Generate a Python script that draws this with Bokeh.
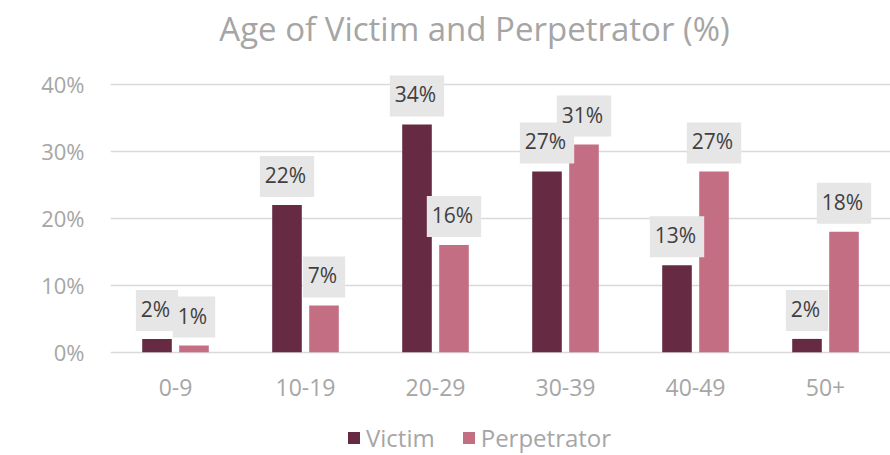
from bokeh.plotting import figure
from bokeh.models import (ColumnDataSource, FactorRange, Range1d, FixedTicker, PrintfTickFormatter,
                          Legend, LegendItem, Label)
from bokeh.transform import dodge
from bokeh.core.properties import value
from bokeh.embed import file_html
from bokeh.resources import INLINE

# ---- data ----
categories = ["0-9", "10-19", "20-29", "30-39", "40-49", "50+"]
victim = [2, 22, 34, 27, 13, 2]
perpetrator = [1, 7, 16, 31, 27, 18]
y_ticks = [0, 10, 20, 30, 40]
title_text = "Age of Victim and Perpetrator (%)"
series_names = ["Victim", "Perpetrator"]

victim_color = "#662B42"
perp_color = "#C46E84"
grid_color = "#D9D9D9"
axis_text_color = "#A6A6A6"
FONT = "Open Sans"

src = ColumnDataSource(dict(
    cat=categories,
    victim=victim,
    perpetrator=perpetrator,
    victim_lbl=[f"{v}%" for v in victim],
    perp_lbl=[f"{v}%" for v in perpetrator],
))

p = figure(
    width=890, height=455,
    x_range=FactorRange(*categories, range_padding=0),
    y_range=Range1d(-15.4, 52.5),
    output_backend="svg", toolbar_location=None,
    min_border_left=110, min_border_right=0,
    min_border_top=0, min_border_bottom=0,
)
p.outline_line_color = None
p.background_fill_color = "white"
p.border_fill_color = "white"
p.title.text = ""
p.title.visible = False
p.title.standoff = 0

# chart title (drawn inside the canvas, centred like the reference)
p.add_layout(Label(x=364, y=426.7, x_units="screen", y_units="screen", text=title_text,
                   text_font=FONT, text_font_size="33px", text_color="#A5A5A5",
                   text_align="center", text_baseline="middle"))

OFF = 0.1423
W = 0.2277

r1 = p.vbar(x=dodge("cat", -OFF, range=p.x_range), top="victim", bottom=0, width=W,
            source=src, fill_color=victim_color, line_color=None)
r2 = p.vbar(x=dodge("cat", OFF, range=p.x_range), top="perpetrator", bottom=0, width=W,
            source=src, fill_color=perp_color, line_color=None)

common = dict(text_font=value(FONT), text_font_size="21px", text_color="#404040",
              text_align="center", text_baseline="bottom",
              background_fill_color="#E7E6E6", padding=(5, 8, 5, 8), y_offset=-8)
p.text(x=dodge("cat", -OFF, range=p.x_range), y="victim", text="victim_lbl", source=src, **common)
p.text(x=dodge("cat", OFF, range=p.x_range), y="perpetrator", text="perp_lbl", source=src, **common)

# axes
p.yaxis.ticker = FixedTicker(ticks=y_ticks)
p.yaxis.formatter = PrintfTickFormatter(format="%d%%")
p.yaxis.axis_line_color = None
p.yaxis.major_tick_line_color = None
p.yaxis.minor_tick_line_color = None
p.yaxis.major_tick_out = 0
p.yaxis.major_label_standoff = 26
p.yaxis.major_label_text_font = FONT
p.yaxis.major_label_text_font_size = "22px"
p.yaxis.major_label_text_color = axis_text_color

p.xaxis.fixed_location = 0
p.xaxis.axis_line_color = None
p.xaxis.major_tick_line_color = None
p.xaxis.major_tick_out = 0
p.xaxis.major_label_standoff = 27
p.xaxis.major_label_text_font = FONT
p.xaxis.major_label_text_font_size = "23px"
p.xaxis.major_label_text_color = axis_text_color

p.xgrid.grid_line_color = None
p.ygrid.ticker = FixedTicker(ticks=y_ticks)
p.ygrid.grid_line_color = grid_color
p.ygrid.grid_line_width = 1.5

legend = Legend(items=[LegendItem(label=series_names[0], renderers=[r1]),
                       LegendItem(label=series_names[1], renderers=[r2])],
                orientation="horizontal", location=(236, 1))
legend.label_text_font = FONT
legend.label_text_font_size = "24px"
legend.label_text_color = axis_text_color
legend.glyph_width = 15
legend.glyph_height = 15
legend.label_standoff = 5
legend.spacing = 26
legend.border_line_color = None
legend.background_fill_alpha = 0
legend.padding = 0
legend.margin = 0
p.add_layout(legend, "center")

open("out.html", "w").write(file_html(p, INLINE))
